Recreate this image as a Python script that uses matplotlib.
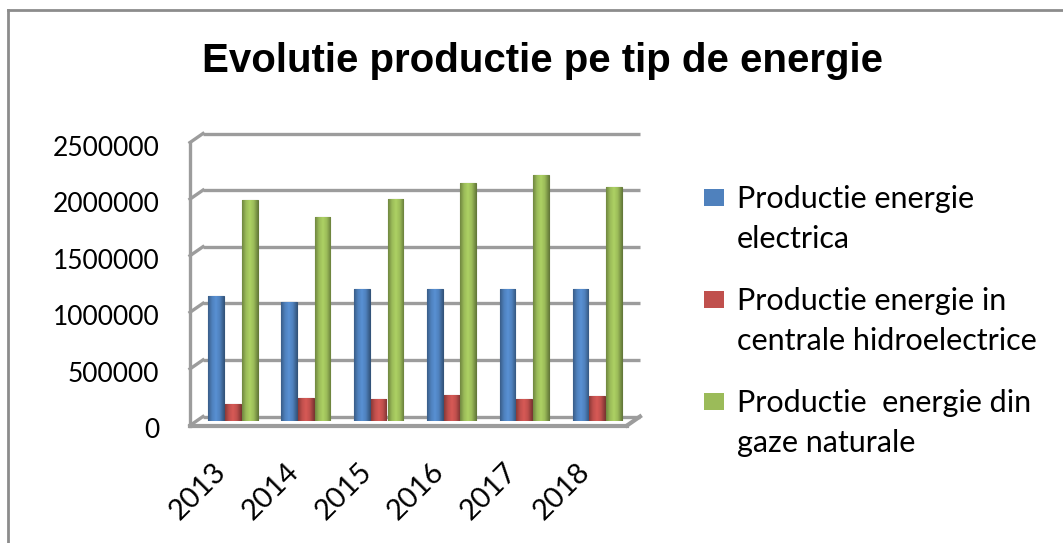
import numpy as np
import matplotlib
matplotlib.use("Agg")
import matplotlib.pyplot as plt
from matplotlib.patches import Rectangle
from matplotlib.lines import Line2D
from matplotlib.colors import LinearSegmentedColormap, to_rgb
from matplotlib.transforms import ScaledTranslation

years = ["2013", "2014", "2015", "2016", "2017", "2018"]
electrica = [1100000, 1050000, 1170000, 1170000, 1170000, 1170000]
hidro = [150000, 200000, 195000, 230000, 195000, 222000]
gaze = [1950000, 1800000, 1960000, 2100000, 2170000, 2070000]
series_names = ["Productie energie\nelectrica",
                "Productie energie in\ncentrale hidroelectrice",
                "Productie  energie din\ngaze naturale"]
colors = ["#4F81BD", "#C0504D", "#9BBB59"]
yticks = [0, 500000, 1000000, 1500000, 2000000, 2500000]
title = "Evolutie productie pe tip de energie"

W, H = 1063, 543
fig = plt.figure(figsize=(W / 100, H / 100), dpi=100)
fig.patch.set_facecolor("white")

# outer chart border (only top and left visible)
fig.add_artist(Line2D([8 / W, 8 / W], [0, 1 - 10 / H], color="#8c8c8c", lw=2.0))
fig.add_artist(Line2D([8 / W, 1], [1 - 10 / H, 1 - 10 / H], color="#8c8c8c", lw=2.0))

# plot plane (mid-depth)
left_px, right_px = 196.5, 633.5
base_px, top_px = 421, 138
ax = fig.add_axes([left_px / W, (H - base_px) / H, (right_px - left_px) / W, (base_px - top_px) / H])
n = len(years)
ax.set_xlim(-0.5, n - 0.5)
ax.set_ylim(0, yticks[-1])
ax.axis("off")

# 3D depth offsets expressed in data units
px_per_x = (right_px - left_px) / n
px_per_y = (base_px - top_px) / yticks[-1]
ddx = 6.5 / px_per_x
ddy = 4.5 / px_per_y

gcol = "#9c9c9c"
glw = 2.4
x0, x1 = -0.5, n - 0.5
# back wall gridlines and left wall
for v in yticks:
    ax.plot([x0 + ddx, x1 + ddx], [v + ddy, v + ddy], color=gcol, lw=glw, clip_on=False, zorder=1,
            solid_capstyle="butt")
    ax.plot([x0 - ddx, x0 + ddx], [v - ddy, v + ddy], color=gcol, lw=glw, clip_on=False, zorder=1)
ax.plot([x0 - ddx, x0 - ddx], [-ddy, yticks[-1] - ddy], color=gcol, lw=glw, clip_on=False, zorder=1)
# floor front and right edges
ax.plot([x0 - ddx, x1 - ddx], [-ddy, -ddy], color=gcol, lw=glw + 0.6, clip_on=False, zorder=4)
ax.plot([x1 - ddx, x1 + ddx], [-ddy, ddy], color=gcol, lw=glw + 0.6, clip_on=False, zorder=4)

# bars with cylinder-like shading
x = np.arange(n)
bw = 0.215
offs = [-0.228, 0.0, 0.232]
grad = np.linspace(0, 1, 64).reshape(1, -1)
for vals, col, off, name in zip([electrica, hidro, gaze], colors, offs, series_names):
    c = np.array(to_rgb(col))
    dark = c * 0.72
    light = np.clip(c * 1.12, 0, 1)
    cmap = LinearSegmentedColormap.from_list("cyl", [dark, c, light, c, dark * 0.95])
    bars = ax.bar(x + off, vals, width=bw, color=col, edgecolor=dark * 0.9, linewidth=0.8,
                  zorder=3, label=name)
    for b in bars:
        im = ax.imshow(grad, cmap=cmap, aspect="auto", zorder=3.1,
                       extent=[b.get_x(), b.get_x() + b.get_width(), 0, b.get_height()],
                       interpolation="bilinear")
        im.set_clip_path(b)
ax.set_xlim(-0.5, n - 0.5)
ax.set_ylim(0, yticks[-1])

# y tick labels at front plane
ylab_tr = ax.get_yaxis_transform() + ScaledTranslation(-37 / 100, -10 / 100, fig.dpi_scale_trans)
for v in yticks:
    ax.text(0, v, f"{v}", transform=ylab_tr, ha="right", va="center", fontsize=19,
            family="Lato", color="black", clip_on=False)

# x tick labels
xlab_tr = ax.transData + ScaledTranslation(-2 / 100, -37 / 100, fig.dpi_scale_trans)
for i, yr in enumerate(years):
    ax.text(i, 0, yr, transform=xlab_tr, ha="right", va="top", rotation=45, fontsize=21,
            family="Lato", color="black", clip_on=False)

# title
fig.text(542 / W, 1 - 61 / H, title, ha="center", va="center", fontsize=29,
         fontweight="bold", family="Liberation Sans")

# legend (manual)
sq_w, sq_h = 20, 17
line1_base = [208, 310, 412]
for name, col, yb in zip(series_names, colors, line1_base):
    fig.add_artist(Rectangle(((704) / W, (H - (yb - 2)) / H), sq_w / W, sq_h / H,
                             transform=fig.transFigure, facecolor=col, edgecolor="none"))
    l1, l2 = name.split("\n")
    fig.text(737 / W, (H - yb) / H, l1, ha="left", va="baseline", fontsize=22, family="Lato")
    fig.text(737 / W, (H - yb - 40) / H, l2, ha="left", va="baseline", fontsize=22, family="Lato")

fig.savefig("out.png", dpi=100)
